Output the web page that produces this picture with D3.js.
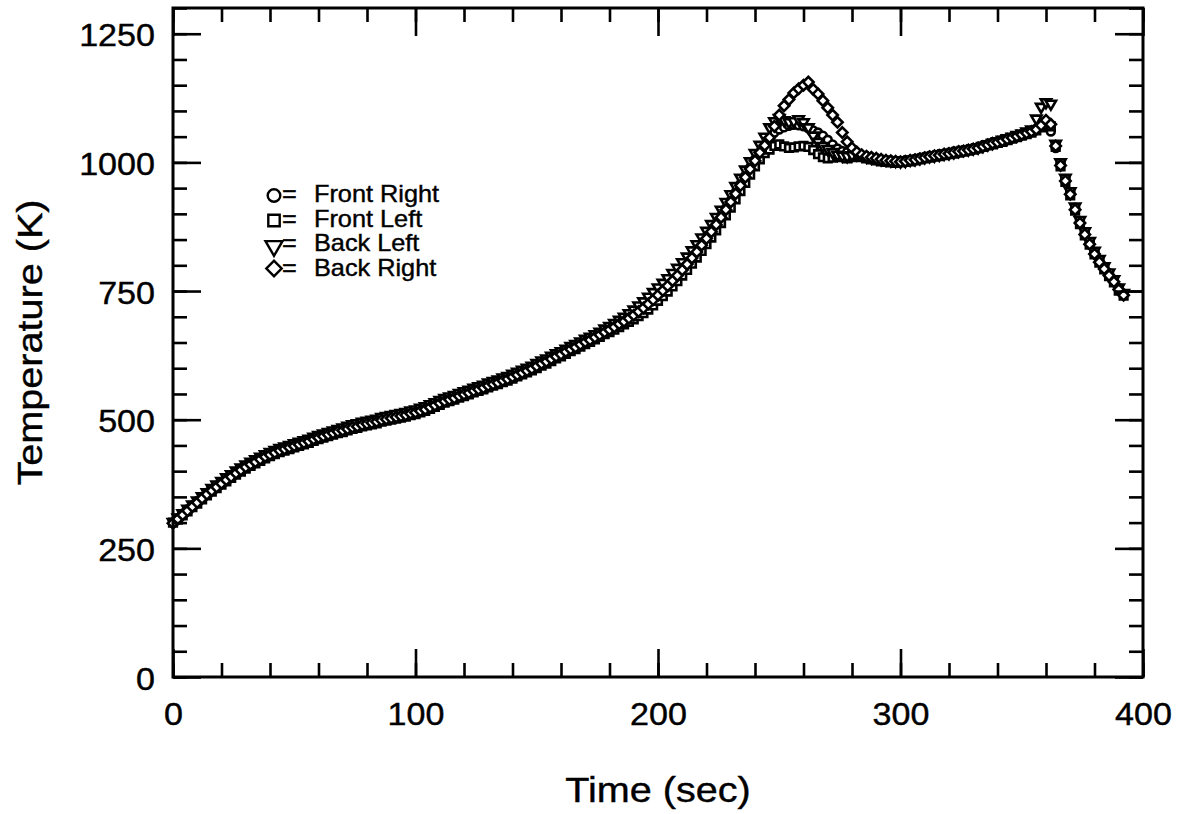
<!DOCTYPE html>
<html>
<head>
<meta charset="utf-8">
<script src="https://cdn.jsdelivr.net/npm/d3@7"></script>
<style>
  html, body { margin: 0; padding: 0; background: #ffffff; }
  svg text { font-family: "Liberation Sans", Arial, Helvetica, sans-serif; fill: #000; stroke: #000; stroke-width: 0.4px; }
</style>
</head>
<body>
<svg id="chart" width="1191" height="814"></svg>
<script>
// ---- Data ----
const times = [0,2,4,6,8,10,12,14,16,18,20,22,24,26,28,30,32,34,36,38,
  40,42,44,46,48,50,52,54,56,58,60,62,64,66,68,70,72,74,76,78,
  80,82,84,86,88,90,92,94,96,98,100,102,104,106,108,110,112,114,116,118,
  120,122,124,126,128,130,132,134,136,138,140,142,144,146,148,150,152,154,156,158,
  160,162,164,166,168,170,172,174,176,178,180,182,184,186,188,190,192,194,196,198,
  200,202,204,206,208,210,212,214,216,218,220,222,224,226,228,230,232,234,236,238,
  240,242,244,246,248,250,252,254,256,258,260,262,264,266,268,270,272,274,276,278,
  280,282,284,286,288,290,292,294,296,298,300,302,304,306,308,310,312,314,316,318,
  320,322,324,326,328,330,332,334,336,338,340,342,344,346,348,350,352,354,356,358,
  360,362,364,366,368,370,372,374,376,378,380,382,384,386,388,390,392];

const frontRight = [
  300,309,318,326,334,342,350,358,365,372,
  379,386,392,399,405,411,416,421,426,431,
  435,439,443,446,449,452,455,458,461,465,
  468,471,474,477,480,482,485,488,490,493,
  495,497,499,502,504,506,508,510,512,515,
  517,520,523,527,531,535,539,542,545,549,
  552,555,559,562,565,569,572,575,579,582,
  586,590,594,598,602,607,612,616,621,626,
  630,635,640,644,649,654,658,663,668,673,
  678,683,689,694,700,706,713,720,728,736,
  745,754,763,773,783,794,805,817,829,842,
  855,868,882,896,911,926,942,958,974,990,
  1006,1020,1034,
  1046,1058,1064,1068,1071,1073,1072,1070,1066,1062,1058,1052,1044,1035,1027,1022,1020,1020,
  1017,1014,1012,1009,1007,1005,1004,1003,1002,1003,
  1004,1005,1007,1009,1011,1013,1014,1016,1017,1019,
  1021,1022,1024,1026,1028,1030,1033,1036,1039,1041,
  1044,1047,1049,1052,1055,1058,1061,1066,1071,1078,
  1060,1028,997,968,942,912,886,864,845,826,
  810,797,784,772,756,745];

const frontLeft = [
  300,306,314,322,330,337,345,353,360,367,
  374,380,387,393,399,405,410,415,420,425,
  429,433,437,440,443,446,449,452,455,459,
  462,465,468,471,474,476,479,482,484,487,
  489,491,493,496,498,500,502,504,506,509,
  511,514,517,521,525,529,533,536,539,543,
  546,549,553,556,559,563,566,569,573,576,
  580,584,588,592,596,600,605,609,614,619,
  623,628,633,637,642,647,651,656,661,666,
  670,675,680,685,690,695,701,707,714,722,
  731,740,749,759,769,780,791,803,815,828,
  841,854,868,882,897,912,928,944,960,976,
  992,1006,1018,
  1025,1032,1035,1031,1028,1029,1031,1032,1030,1024,1016,1010,1008,1009,1012,1010,1008,1010,
  1012,1010,1008,1006,1004,1002,1001,1000,999,1000,
  1001,1002,1004,1006,1008,1009,1011,1012,1014,1016,
  1017,1019,1021,1023,1025,1027,1030,1033,1035,1038,
  1040,1043,1046,1049,1052,1055,1058,1062,1068,1072,
  1070,1030,992,962,936,906,880,858,840,821,
  805,792,779,767,751,741];

const backLeft = [
  301,310,318,327,335,343,351,359,367,374,
  381,388,394,401,407,413,418,423,428,433,
  437,441,445,448,451,454,457,460,463,467,
  470,473,476,479,482,485,488,491,493,496,
  498,500,502,505,507,509,511,513,515,518,
  520,523,526,530,534,538,542,545,548,552,
  555,558,562,565,568,572,575,578,582,585,
  589,593,597,601,605,610,615,619,624,629,
  633,638,643,647,652,657,661,666,671,677,
  682,688,694,700,707,714,722,730,739,748,
  757,766,775,785,795,806,817,829,841,854,
  867,880,894,908,923,938,954,970,986,1002,
  1018,1034,1050,
  1068,1080,1086,1082,1078,1080,1084,1078,1068,1052,1040,1032,1026,1020,1015,1013,1012,1014,
  1016,1014,1011,1009,1008,1006,1005,1004,1003,1002,
  1003,1005,1006,1008,1010,1012,1013,1015,1017,1018,
  1020,1022,1024,1025,1027,1029,1032,1035,1038,1041,
  1044,1047,1050,1053,1056,1060,1064,1085,1108,1117,
  1114,1036,1000,970,944,914,888,866,847,828,
  812,798,786,773,757,746];

const backRight = [
  299,307,315,323,331,339,347,355,362,369,
  376,383,389,396,402,408,413,418,423,428,
  432,436,440,443,446,449,452,455,458,462,
  465,468,471,474,477,479,482,485,487,490,
  492,494,496,499,501,503,505,507,509,512,
  514,517,520,524,528,532,536,539,542,546,
  549,552,556,559,562,566,569,572,576,579,
  583,587,591,595,599,604,609,613,618,623,
  627,632,637,641,646,651,655,660,665,670,
  675,680,686,691,697,703,710,717,725,733,
  742,751,760,770,780,791,802,814,826,839,
  852,865,879,893,908,923,939,955,971,987,
  1003,1019,1033,
  1048,1070,1092,1110,1122,1135,1143,1150,1156,1142,1133,1120,1106,1092,1078,1058,1040,1028,
  1020,1015,1012,1010,1008,1006,1004,1003,1002,1001,
  1002,1004,1005,1007,1009,1011,1013,1014,1016,1017,
  1019,1021,1022,1024,1026,1028,1031,1034,1037,1039,
  1042,1045,1048,1051,1054,1057,1060,1064,1072,1082,
  1074,1032,994,964,938,908,882,860,841,822,
  806,793,780,768,753,742];

const seriesNames = ["Front Right", "Front Left", "Back Left", "Back Right"];
const seriesValues = [frontRight, frontLeft, backLeft, backRight];

const xMajorTicks = [0,100,200,300,400];
const xMinorTicks = [0,20,40,60,80,100,120,140,160,180,200,220,240,260,280,300,320,340,360,380,400];
const yMajorTicks = [0,250,500,750,1000,1250];
const yMinorTicks = [0,50,100,150,200,250,300,350,400,450,500,550,600,650,700,750,800,850,900,950,1000,1050,1100,1150,1200,1250,1300];

const xTitle = "Time (sec)";
const yTitle = "Temperature (K)";

// ---- Layout ----
const L = 173, R = 1143, T = 8, B = 677;
const svg = d3.select("#chart");
const x = d3.scaleLinear().domain([0, 400]).range([L, R]);
const y = d3.scaleLinear().domain([0, 1300]).range([B, T]);

const symCircle = d3.symbol().type(d3.symbolCircle);
const symSquare = d3.symbol().type(d3.symbolSquare);
const symTri = d3.symbol().type(d3.symbolTriangle);
const shapes = [
  {gen: symCircle, size: 48, rot: 0, lsize: 125},
  {gen: symSquare, size: 58, rot: 0, lsize: 130},
  {gen: symTri, size: 46, rot: 180, lsize: 125},
  {gen: symSquare, size: 54, rot: 45, lsize: 118}
];

// ---- Data markers ----
seriesValues.forEach((vals, si) => {
  const sh = shapes[si];
  const pts = vals.map((v, i) => ({t: times[i], v: v}));
  svg.append("g")
    .selectAll("path")
    .data(pts)
    .join("path")
    .attr("d", sh.gen.size(sh.size)())
    .attr("transform", d => `translate(${x(d.t)},${y(d.v)}) rotate(${sh.rot})`)
    .attr("fill", "#fff")
    .attr("stroke", "#000")
    .attr("stroke-width", 2.6);
});

// ---- Axes (ticks inward on all four sides) ----
function styleAxis(g) {
  g.select(".domain").remove();
  g.selectAll(".tick line").attr("stroke", "#000").attr("stroke-width", 2.6);
}
svg.append("g").attr("transform", `translate(0,${B})`)
  .call(d3.axisBottom(x).tickValues(xMinorTicks).tickSize(-14).tickFormat(""))
  .call(styleAxis);
const bx = svg.append("g").attr("transform", `translate(0,${B})`)
  .call(d3.axisBottom(x).tickValues(xMajorTicks).tickSize(-28).tickFormat(d3.format("d")))
  .call(styleAxis);
bx.selectAll(".tick text")
  .attr("y", 48).attr("dy", 0)
  .attr("font-size", 31)
  .attr("transform", "scale(1.1,1)");
svg.append("g").attr("transform", `translate(0,${T})`)
  .call(d3.axisTop(x).tickValues(xMinorTicks).tickSize(-14).tickFormat(""))
  .call(styleAxis);
svg.append("g").attr("transform", `translate(0,${T})`)
  .call(d3.axisTop(x).tickValues(xMajorTicks).tickSize(-28).tickFormat(""))
  .call(styleAxis);
svg.append("g").attr("transform", `translate(${L},0)`)
  .call(d3.axisLeft(y).tickValues(yMinorTicks).tickSize(-14).tickFormat(""))
  .call(styleAxis);
const ly = svg.append("g").attr("transform", `translate(${L},0)`)
  .call(d3.axisLeft(y).tickValues(yMajorTicks).tickSize(-28).tickFormat(d3.format("d")))
  .call(styleAxis);
ly.selectAll(".tick text")
  .attr("x", -18 / 1.1).attr("dy", 0).attr("y", 12)
  .attr("font-size", 31)
  .attr("text-anchor", "end")
  .attr("transform", "scale(1.1,1)");
svg.append("g").attr("transform", `translate(${R},0)`)
  .call(d3.axisRight(y).tickValues(yMinorTicks).tickSize(-14).tickFormat(""))
  .call(styleAxis);
svg.append("g").attr("transform", `translate(${R},0)`)
  .call(d3.axisRight(y).tickValues(yMajorTicks).tickSize(-28).tickFormat(""))
  .call(styleAxis);

svg.append("rect")
  .attr("x", L).attr("y", T)
  .attr("width", R - L).attr("height", B - T)
  .attr("fill", "none").attr("stroke", "#000").attr("stroke-width", 3);

// ---- Titles ----
svg.append("text")
  .attr("transform", `translate(${(L + R) / 2},802) scale(1.1,1)`)
  .attr("text-anchor", "middle")
  .attr("font-size", 36)
  .text(xTitle);
svg.append("text")
  .attr("transform", `translate(42,${(T + B) / 2}) rotate(-90) scale(1.1,1)`)
  .attr("text-anchor", "middle")
  .attr("font-size", 36)
  .text(yTitle);

// ---- Legend ----
const legBase = [202, 226.5, 251, 275.5];
const legSymY = [195.5, 220.5, 246, 268.5];
seriesNames.forEach((name, i) => {
  const sh = shapes[i];
  svg.append("path")
    .attr("d", sh.gen.size(sh.lsize)())
    .attr("transform", `translate(274,${legSymY[i]}) rotate(${sh.rot})`)
    .attr("fill", "#fff").attr("stroke", "#000").attr("stroke-width", 2.4);
  svg.append("text")
    .attr("transform", `translate(282,${legBase[i]}) scale(1.1,1)`)
    .attr("font-size", 23)
    .text("=");
  svg.append("text")
    .attr("transform", `translate(314,${legBase[i]}) scale(1.1,1)`)
    .attr("font-size", 23)
    .text(name);
});
</script>
</body>
</html>
